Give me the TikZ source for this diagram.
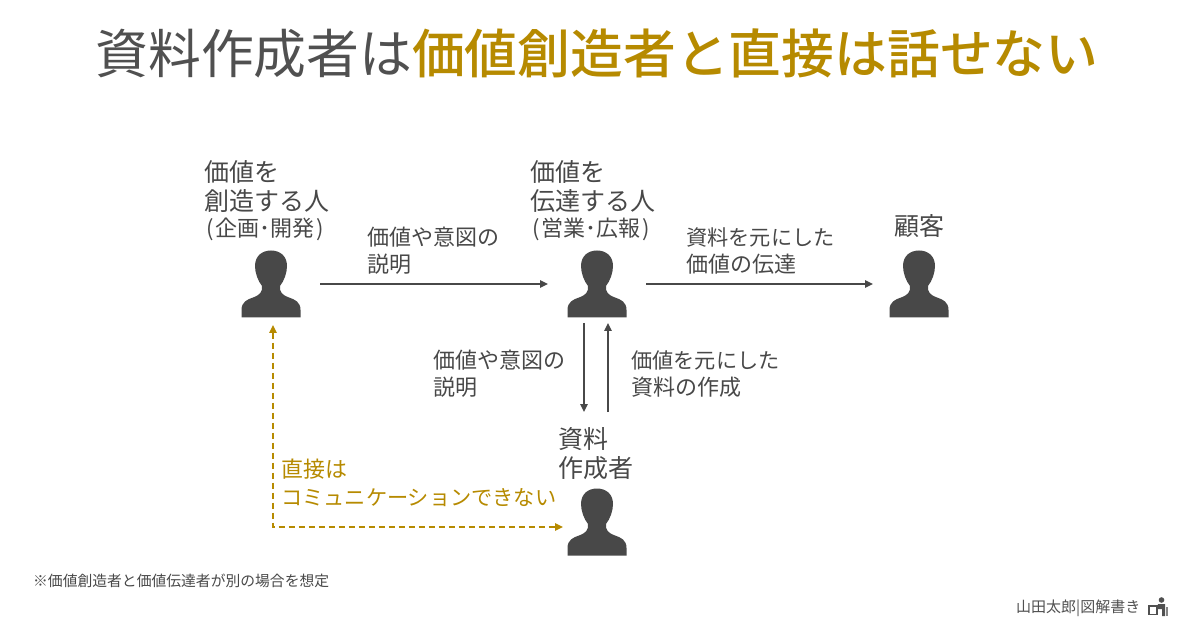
\documentclass[tikz,border=0pt]{standalone}
\usepackage{fontspec}
\setmainfont{Noto Sans CJK JP}
\newfontfamily\titlemedium{Noto Sans CJK JP Medium}
\usetikzlibrary{calc,arrows.meta}
\definecolor{ink}{HTML}{484848}
\definecolor{titlegrey}{HTML}{505050}
\definecolor{gold}{HTML}{B68A00}
\newcommand{\kanafit}{\fontsize{21.2}{27.5}\selectfont}
\tikzset{
  personicon/.style={minimum width=60pt,minimum height=68pt,inner sep=0pt,outer sep=0pt,
    path picture={\fill[ink,shift={(path picture bounding box.center)}]
      (-29.5,33.5) -- (-29.5,26) .. controls (-29.5,18) and (-24,15.5) .. (-18,13.5)
      .. controls (-11,11) and (-8.5,8) .. (-9,2)
      .. controls (-13,-3) and (-16,-11) .. (-16,-18)
      .. controls (-16,-28) and (-9,-33.5) .. (0,-33.5)
      .. controls (9,-33.5) and (16,-28) .. (16,-18)
      .. controls (16,-11) and (13,-3) .. (9,2)
      .. controls (8.5,8) and (11,11) .. (18,13.5)
      .. controls (24,15.5) and (29.5,18) .. (29.5,26) -- (29.5,33.5) -- cycle;}},
  lab/.style={anchor=north west,inner sep=0pt,align=left,text=ink},
  biglab/.style={lab,font=\fontsize{25}{29}\selectfont},
  midlab/.style={lab,font=\fontsize{22}{27.3}\selectfont},
  flow/.style={draw=ink,line width=1.3pt,-{Triangle[length=8pt,width=7.5pt]}},
  noway/.style={draw=gold,line width=1.4pt,dashed,dash pattern=on 6pt off 4pt,{Triangle[length=8pt,width=7.5pt]}-{Triangle[length=8pt,width=7.5pt]}}
}
\begin{document}
\begin{tikzpicture}[x=1pt,y=-1pt]
\useasboundingbox (0,0) rectangle (1200,628);
\node[anchor=center,inner sep=0pt] (title) at (597,53) {\fontsize{52.8}{60}\selectfont\textcolor{titlegrey}{資料作成者は}{\titlemedium\textcolor{gold}{価値創造者と直接は話せない}}};
\node[personicon] (p1) at (271,284) {};
\node[personicon] (p2) at (597,284) {};
\node[personicon] (p3) at (919,284) {};
\node[personicon] (p4) at (597,522) {};
\node[biglab] (l1) at (204,160) {価値を\\創造する人\\[-3pt]{\fontsize{22}{24}\selectfont\kern2pt(\kern2pt 企画･開発\kern2pt)}};
\node[biglab] (l2) at (530,160) {価値を\\伝達する人\\[-3pt]{\fontsize{22}{24}\selectfont\kern2pt(\kern2pt 営業･広報\kern2pt)}};
\node[biglab] (l3) at (894,214) {顧客};
\node[biglab] (l4) at (558,427) {資料\\作成者};
\node[midlab] (m1) at (367,227) {価値や意図の\\説明};
\node[midlab] (m2) at (686,227) {{\kanafit 資料を元にした}\\価値の伝達};
\node[midlab] (m3) at (433,350) {価値や意図の\\説明};
\node[midlab] (m4) at (631,350) {{\kanafit 価値を元にした}\\資料の作成};
\node[midlab,text=gold] (m5) at (281,459) {直接は\\{\kanafit コミュニケーションできない}};
\node[lab,font=\fontsize{14.8}{17}\selectfont] (note) at (33,574) {※価値創造者と価値伝達者が別の場合を想定};
\node[lab,font=\fontsize{15}{17}\selectfont,text=titlegrey] (credit) at (1016,600) {山田太郎|図解書き};
\draw[flow,shorten <=19pt,shorten >=19pt] (p1) -- (p2);
\draw[flow,shorten <=19pt,shorten >=16pt] (p2) -- (p3);
\draw[flow] ($(p2.south)+(-13,5)$) -- ($(p4.north)+(-13,-76)$);
\draw[flow] ($(p4.north)+(11,-76)$) -- ($(p2.south)+(11,5)$);
\draw[noway] ($(p1.south)+(2,7)$) |- ($(p4.west)+(-4,5)$);
% credit icon
\fill[titlegrey] (1161.5,600) circle (2.8);
\fill[titlegrey] (1148,604.5) rectangle (1160,606.5);
\draw[titlegrey,line width=1.1pt] (1149,606) -- (1149,614.5) -- (1157,614.5) -- (1157,607);
\fill[titlegrey] (1158,604) -- (1165,604) -- (1165,616) -- (1162,616) -- (1162,609) -- (1157,609) -- cycle;
\fill[titlegrey!70] (1165.5,607) -- (1168,607) -- (1168,616) -- (1165.5,616) -- cycle;
\end{tikzpicture}
\end{document}
